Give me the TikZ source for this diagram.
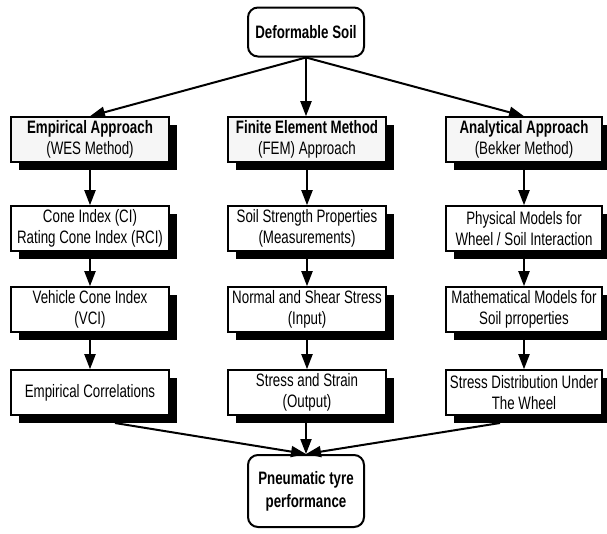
\documentclass[tikz,border=0pt]{standalone}
\usepackage{fontspec}
\setmainfont{Liberation Sans}[FakeStretch=0.74]
\usetikzlibrary{arrows.meta}
\newcommand\shbox[6]{%
  \fill[black] ({#3-#5/2+8},{#4-22.5+8}) rectangle ({#3+#5/2+8},{#4+22.5+8});
  \node[#1, minimum width=#5pt] (#2) at (#3,#4) {#6};}
\begin{document}
\begin{tikzpicture}[x=1pt,y=-1pt,
  box/.style={draw, line width=1.6pt, fill=white, minimum height=45pt, inner sep=0pt,
    align=center, font=\fontsize{18}{21}\selectfont},
  headbox/.style={box, fill=gray!7},
  endbox/.style={draw, line width=2pt, rounded corners=10pt, fill=white, align=center,
    font=\bfseries\fontsize{18}{23}\selectfont, minimum width=116pt, inner sep=0pt},
  arr/.style={line width=2pt, -{Triangle[length=15pt,width=11pt]}}]
\useasboundingbox (0,0) rectangle (607,533);

\node[endbox, minimum height=49pt] (top) at (306,32) {Deformable Soil};

\shbox{headbox}{a1}{90}{139.5}{158}{\textbf{Empirical Approach}\\(WES Method)}
\shbox{headbox}{b1}{307}{139.5}{158}{\textbf{Finite Element Method}\\(FEM) Approach}
\shbox{headbox}{c1}{524}{139.5}{156}{\textbf{Analytical Approach}\\(Bekker Method)}

\shbox{box}{a2}{90}{228.5}{158}{Cone Index (CI)\\Rating Cone Index (RCI)}
\shbox{box}{b2}{307}{228.5}{158}{Soil Strength Properties\\(Measurements)}
\shbox{box}{c2}{524}{228.5}{156}{Physical Models for\\Wheel / Soil Interaction}

\shbox{box}{a3}{90}{309.5}{158}{Vehicle Cone Index\\(VCI)}
\shbox{box}{b3}{307}{309.5}{158}{Normal and Shear Stress\\(Input)}
\shbox{box}{c3}{524}{309.5}{156}{Mathematical Models for\\Soil prroperties}

\shbox{box}{a4}{90}{392.5}{158}{Empirical Correlations}
\shbox{box}{b4}{307}{392.5}{158}{Stress and Strain\\(Output)}
\shbox{box}{c4}{524}{392.5}{156}{Stress Distribution Under\\The Wheel}

\node[endbox, minimum height=72pt] (bot) at (306,491) {Pneumatic tyre\\performance};

\coordinate (la) at (115,423);
\coordinate (lc) at (500,423);

\draw[arr] (top.south) -- (a1.north);
\draw[arr] (top.south) -- (top.south |- b1.north);
\draw[arr] (top.south) -- (c1.north);

\foreach \c in {a,b,c}{
  \draw[arr] (\c1.south) -- (\c2.north);
  \draw[arr] (\c2.south) -- (\c3.north);
  \draw[arr] (\c3.south) -- (\c4.north);
}
\draw[arr] (la) -- (bot.north);
\draw[arr] (b4.south -| bot.north) -- (bot.north);
\draw[arr] (lc) -- (bot.north);
\end{tikzpicture}
\end{document}
